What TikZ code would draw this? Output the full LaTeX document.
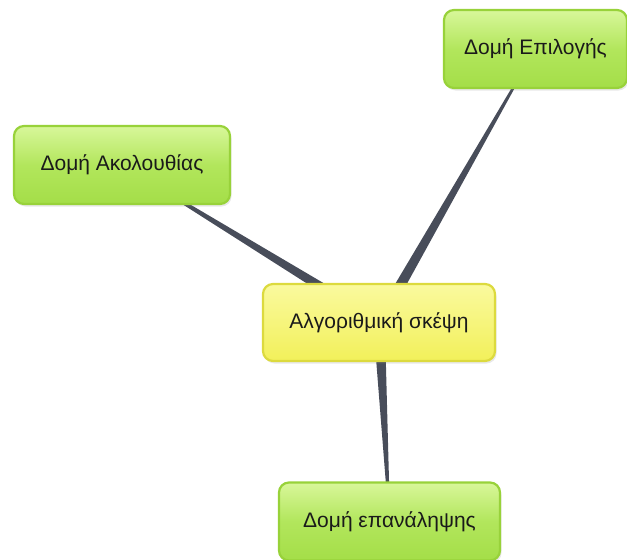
\documentclass[tikz,border=0pt]{standalone}
\usepackage{fontspec}
\setmainfont{Liberation Sans}
\usetikzlibrary{calc,shadows,backgrounds}
\definecolor{gfill}{HTML}{B2E65C}
\definecolor{gtop}{HTML}{D8F79A}
\definecolor{gbot}{HTML}{A4DE48}
\definecolor{gborder}{HTML}{98D23A}
\definecolor{ytop}{HTML}{FAFA9E}
\definecolor{ybot}{HTML}{F2F05A}
\definecolor{yborder}{HTML}{DCDA3E}
\definecolor{wedge}{HTML}{484D5A}
\definecolor{txt}{HTML}{1A1A1A}
\tikzset{
  box/.style={rectangle, rounded corners=10pt, line width=2.2pt,
    text=txt, font=\fontsize{21}{24}\selectfont,
    drop shadow={opacity=0.18, shadow xshift=1.5pt, shadow yshift=-2.5pt}},
  greenbox/.style={box, draw=gborder, top color=gtop, bottom color=gbot, middle color=gfill},
  yellowbox/.style={box, draw=yborder, top color=ytop, bottom color=ybot},
  wedgefill/.style={fill=wedge, draw=none}
}
\begin{document}
\begin{tikzpicture}[x=1pt,y=-1pt]
\useasboundingbox (0,0) rectangle (627,560);
\node[yellowbox, minimum width=232pt, minimum height=77pt] (c) at (379,322.5) {Αλγοριθμική σκέψη};
\node[greenbox, minimum width=216pt, minimum height=78pt] (l) at (122,165) {Δομή Ακολουθίας};
\node[greenbox, minimum width=183pt, minimum height=78pt] (t) at (535.5,49) {Δομή Επιλογής};
\node[greenbox, minimum width=221pt, minimum height=78pt] (b) at (389.5,521.5) {Δομή επανάληψης};
\begin{scope}[on background layer]
  \foreach \n in {l,t,b}{
    \fill[wedgefill] ($(c.center)!5.8pt!90:(\n.center)$) -- ($(\n.center)!0.6pt!-90:(c.center)$) -- ($(\n.center)!0.6pt!90:(c.center)$) -- ($(c.center)!5.8pt!-90:(\n.center)$) -- cycle;
  }
\end{scope}
\end{tikzpicture}
\end{document}
